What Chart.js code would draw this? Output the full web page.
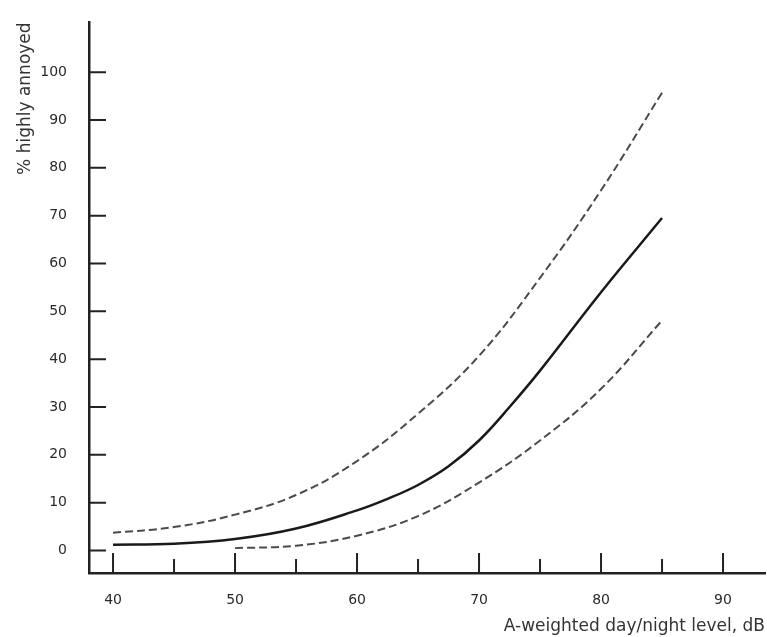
<!DOCTYPE html>
<html lang="en">
<head>
    <meta charset="UTF-8">
    <title>% highly annoyed vs A-weighted day/night level</title>
    <style>
        body {
            margin: 0;
            padding: 0;
            background-color: #fff;
        }

        #chart {
            display: block;
        }
    </style>
</head>
<body>
    <canvas id="chart" width="767" height="637"></canvas>

    <script src="https://cdn.jsdelivr.net/npm/chart.js"></script>
    <script>
        // values
        var levels = [40, 45, 50, 55, 60, 62.5, 65, 67.5, 70, 72.5, 75, 80, 85];
        var meanPct = [1.2, 1.4, 2.4, 4.6, 8.4, 10.8, 13.7, 17.6, 23.0, 30.0, 37.6, 54.0, 69.5];
        var upperLevels = [40, 45, 50, 55, 60, 65, 70, 75, 80, 85];
        var upperPct = [3.7, 4.9, 7.5, 11.6, 18.7, 28.6, 40.7, 57.0, 75.3, 95.7];
        var lowerLevels = [50, 55, 60, 65, 70, 75, 80, 85];
        var lowerPct = [0.5, 1.0, 3.1, 7.2, 14.2, 23.0, 33.8, 48.1];

        var yTicks = [0, 10, 20, 30, 40, 50, 60, 70, 80, 90, 100];
        var xTicks = [40, 50, 60, 70, 80, 90];
        var xMinorTicks = [45, 55, 65, 75, 85];

        function points(xs, ys) {
            return xs.map(function(v, i) { return { x: v, y: ys[i] }; });
        }

        // tick marks in this figure point into the plot
        var inwardTicks = {
            id: 'inwardTicks',
            afterDatasetsDraw: function(chart) {
                var ctx = chart.ctx;
                var a = chart.chartArea;
                var x = chart.scales.x;
                var y = chart.scales.y;
                ctx.save();
                ctx.strokeStyle = '#222';
                ctx.lineWidth = 2;
                ctx.beginPath();
                yTicks.forEach(function(v) {
                    var py = y.getPixelForValue(v);
                    ctx.moveTo(a.left, py);
                    ctx.lineTo(a.left + 17, py);
                });
                xTicks.forEach(function(v) {
                    var px = x.getPixelForValue(v);
                    ctx.moveTo(px, a.bottom);
                    ctx.lineTo(px, a.bottom - 20);
                });
                xMinorTicks.forEach(function(v) {
                    var px = x.getPixelForValue(v);
                    ctx.moveTo(px, a.bottom);
                    ctx.lineTo(px, a.bottom - 14);
                });
                ctx.stroke();
                ctx.restore();
            }
        };

        var dashed = {
            borderColor: '#4a4a4a',
            borderWidth: 2,
            borderDash: [8, 4],
            pointRadius: 0,
            tension: 0.4,
            fill: false
        };

        var ctx = document.getElementById('chart').getContext('2d');
        var myChart = new Chart(ctx, {
            type: 'line',
            data: {
                datasets: [
                    Object.assign({ label: 'upper', data: points(upperLevels, upperPct) }, dashed),
                    {
                        label: 'mean',
                        data: points(levels, meanPct),
                        borderColor: '#1a1a1a',
                        borderWidth: 2.5,
                        pointRadius: 0,
                        tension: 0.4,
                        fill: false
                    },
                    Object.assign({ label: 'lower', data: points(lowerLevels, lowerPct) }, dashed)
                ]
            },
            options: {
                responsive: false,
                animation: false,
                layout: { padding: { top: 10, right: 2, left: 0, bottom: 0 } },
                plugins: {
                    legend: { display: false },
                    tooltip: { enabled: false }
                },
                scales: {
                    x: {
                        type: 'linear',
                        min: 38.03,
                        max: 93.44,
                        afterFit: function(s) { s.height = 64; },
                        afterBuildTicks: function(s) {
                            s.ticks = xTicks.map(function(v) { return { value: v }; });
                        },
                        grid: { display: false },
                        border: { display: true, color: '#222', width: 2.5 },
                        ticks: {
                            padding: 11,
                            color: '#2a2a2a',
                            font: { family: 'DejaVu Sans', size: 14 }
                        },
                        title: {
                            display: true,
                            text: 'A-weighted day/night level, dB',
                            align: 'end',
                            color: '#333',
                            padding: { top: 3, bottom: 0 },
                            font: { family: 'DejaVu Sans', size: 17 }
                        }
                    },
                    y: {
                        min: -4.7,
                        max: 110.4,
                        afterFit: function(s) { s.width = 89; },
                        afterBuildTicks: function(s) {
                            s.ticks = yTicks.map(function(v) { return { value: v }; });
                        },
                        grid: { display: false },
                        border: { display: true, color: '#222', width: 2.5 },
                        ticks: {
                            padding: 14,
                            color: '#2a2a2a',
                            font: { family: 'DejaVu Sans', size: 14 }
                        },
                        title: {
                            display: true,
                            text: '% highly annoyed',
                            align: 'end',
                            color: '#333',
                            padding: { top: 15, bottom: 0 },
                            font: { family: 'DejaVu Sans', size: 17 }
                        }
                    }
                }
            },
            plugins: [inwardTicks]
        });
    </script>
</body>
</html>
